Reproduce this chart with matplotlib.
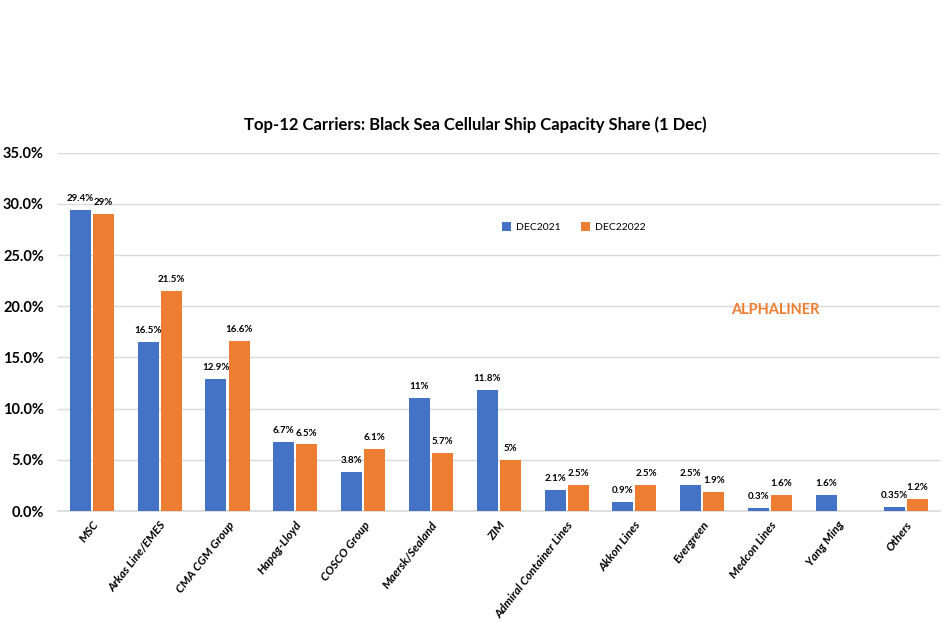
import matplotlib
matplotlib.use("Agg")
import matplotlib.pyplot as plt
import numpy as np

categories = ["MSC", "Arkas Line/EMES", "CMA CGM Group", "Hapag-Lloyd", "COSCO Group",
              "Maersk/Sealand", "ZIM", "Admiral Container Lines", "Akkon Lines", "Evergreen",
              "Medcon Lines", "Yang Ming", "Others"]
dec2021 = [29.4, 16.5, 12.9, 6.7, 3.8, 11.0, 11.8, 2.1, 0.9, 2.5, 0.3, 1.6, 0.35]
dec2022 = [29.0, 21.5, 16.6, 6.5, 6.1, 5.7, 5.0, 2.5, 2.5, 1.9, 1.6, np.nan, 1.2]
labels2021 = ["29.4%", "16.5%", "12.9%", "6.7%", "3.8%", "11%", "11.8%", "2.1%", "0.9%",
              "2.5%", "0.3%", "1.6%", "0.35%"]
labels2022 = ["29%", "21.5%", "16.6%", "6.5%", "6.1%", "5.7%", "5%", "2.5%", "2.5%",
              "1.9%", "1.6%", "", "1.2%"]
yticks = [0, 5, 10, 15, 20, 25, 30, 35]

plt.rcParams['font.family'] = ['Lato', 'DejaVu Sans']
blue = "#4472C4"
orange = "#ED7D31"

fig = plt.figure(figsize=(9.5, 6.34), dpi=100)
ax = fig.add_axes([0.061, 0.194, 0.928, 0.565])

x = np.arange(len(categories))
w = 0.31
off = 0.17
b1 = ax.bar(x - off, dec2021, w, color=blue, label="DEC2021", zorder=3)
b2 = ax.bar(x + off, dec2022, w, color=orange, label="DEC22022", zorder=3)

for rect, lab in zip(b1, labels2021):
    ax.annotate(lab, (rect.get_x() + rect.get_width() / 2, rect.get_height()),
                xytext=(0, 5), textcoords="offset points", ha="center", va="bottom",
                fontsize=7, fontweight="bold")
for rect, lab in zip(b2, labels2022):
    h = rect.get_height()
    if lab and not np.isnan(h):
        ax.annotate(lab, (rect.get_x() + rect.get_width() / 2, h),
                    xytext=(0, 5), textcoords="offset points", ha="center", va="bottom",
                    fontsize=7, fontweight="bold")

ax.set_xlim(-0.5, len(categories) - 0.5)
ax.set_ylim(0, 35)
ax.set_yticks(yticks)
ax.set_yticklabels([f"{t:.1f}%" for t in yticks], fontsize=10.5, fontweight="bold")
ax.set_xticks(x)
ax.set_xticklabels(categories, rotation=52, ha="right", rotation_mode="anchor",
                   fontsize=8.5, fontweight="bold", style="italic")
ax.tick_params(axis="both", length=0)
ax.tick_params(axis="x", pad=6)
ax.tick_params(axis="y", pad=10)
ax.grid(axis="y", color="#D9D9D9", linewidth=1, zorder=0)
for s in ["top", "right", "left"]:
    ax.spines[s].set_visible(False)
ax.spines["bottom"].set_color("#D9D9D9")
ax.spines["bottom"].set_linewidth(1.2)

ax.legend(loc="center", bbox_to_anchor=(0.585, 0.793), ncol=2, frameon=False,
          fontsize=7.5, handlelength=0.9, handleheight=0.9, columnspacing=2.0,
          handletextpad=0.4)

ax.text(0.814, 0.562, "ALPHALINER", transform=ax.transAxes, color=orange,
        fontsize=10.5, fontweight="bold", ha="center", va="center")

fig.text(0.5, 0.803, "Top-12 Carriers: Black Sea Cellular Ship Capacity Share (1 Dec)",
         ha="center", va="center", fontsize=12, fontweight="bold")

fig.savefig("out.png", dpi=100, facecolor="white")
